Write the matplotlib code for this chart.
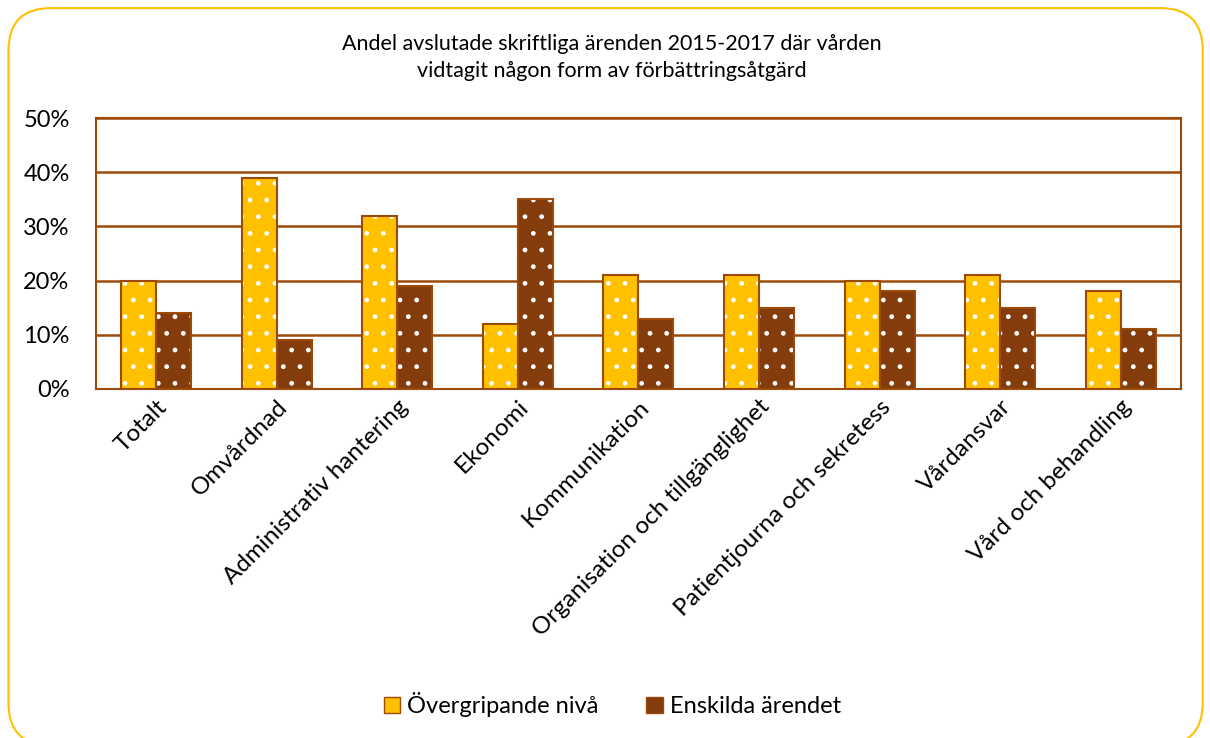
import numpy as np
import matplotlib.pyplot as plt
from matplotlib.patches import FancyBboxPatch, Patch

plt.rcParams['font.family'] = ['Lato', 'DejaVu Sans']

categories = ['Totalt', 'Omvårdnad', 'Administrativ hantering', 'Ekonomi',
              'Kommunikation', 'Organisation och tillgänglighet',
              'Patientjourna och sekretess', 'Vårdansvar', 'Vård och behandling']
overgripande = [20, 39, 32, 12, 21, 21, 20, 21, 18]
enskilda = [14, 9, 19, 35, 13, 15, 18, 15, 11]
series_names = ['Övergripande nivå', 'Enskilda ärendet']
yticks = [0, 10, 20, 30, 40, 50]

yellow = '#FFC000'
brown = '#843C0C'
edge = '#9C4A0A'

fig = plt.figure(figsize=(12.1, 7.38), dpi=100)
ax = fig.add_axes([0.0793, 0.4729, 0.8967, 0.3671])

x = np.arange(len(categories))
w = 0.29


def draw_bars(pos, vals, color):
    ax.bar(pos, vals, w, color=color, edgecolor='none', zorder=3)
    ax.bar(pos, vals, w, fill=False, hatch='.', edgecolor='white', linewidth=0, zorder=4)
    ax.bar(pos, vals, w, fill=False, edgecolor=edge, linewidth=1.5, zorder=5)


draw_bars(x - w / 2, overgripande, yellow)
draw_bars(x + w / 2, enskilda, brown)

ax.set_xlim(-0.5, len(categories) - 0.5)
ax.set_ylim(0, 50)
ax.set_yticks(yticks)
ax.set_yticklabels([f'{v}%' for v in yticks], fontsize=17)
ax.yaxis.grid(True, color=edge, linewidth=1.8, zorder=0)
ax.set_axisbelow(True)
ax.tick_params(length=0, pad=19)
ax.tick_params(axis='x', pad=5)
ax.set_xticks(x)
ax.set_xticklabels(categories, rotation=45, ha='right', rotation_mode='anchor', fontsize=17.5)
for s in ax.spines.values():
    s.set_color(edge)
    s.set_linewidth(1.5)

fig.text(0.506, 0.922, 'Andel avslutade skriftliga ärenden 2015-2017 där vården\nvidtagit någon form av förbättringsåtgärd',
         ha='center', va='center', fontsize=15.5, linespacing=1.4)

handles = [Patch(facecolor=yellow, edgecolor=edge), Patch(facecolor=brown, edgecolor=edge)]
fig.legend(handles, series_names, loc='center', bbox_to_anchor=(0.506, 0.045), ncol=2,
           frameon=False, fontsize=17, handlelength=0.7, handleheight=0.7,
           handletextpad=0.3, columnspacing=2.0)

border = FancyBboxPatch((0.007, -0.01), 0.987, 0.999, boxstyle='round,pad=0,rounding_size=0.035',
                        transform=fig.transFigure, fill=False, edgecolor=yellow, linewidth=1.5,
                        mutation_aspect=1210 / 738)
fig.patches.append(border)

fig.savefig('out.png', dpi=100)
